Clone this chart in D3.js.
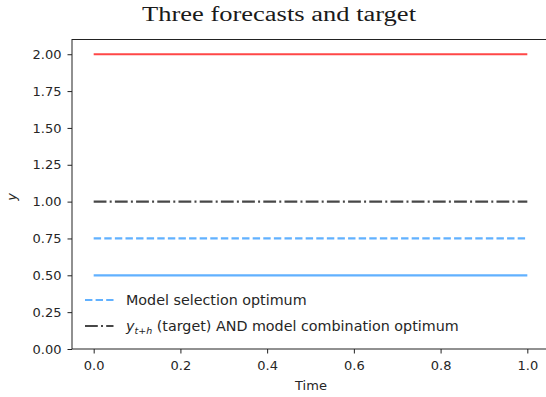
<!DOCTYPE html>
<html>
<head>
<meta charset="utf-8">
<script src="https://cdn.jsdelivr.net/npm/d3@7"></script>
<style>
  body { margin: 0; background: #fff; }
  svg { display: block; overflow: hidden; }
</style>
</head>
<body>
<svg id="chart"></svg>
<script>
const width = 546;
const height = 397;
const margin = {top: 39.5, right: -3, bottom: 48, left: 72};

// data
const times = [0, 1];
const highForecast = [2.0, 2.0];
const lowForecast = [0.5, 0.5];
const selectionOptimum = [0.75, 0.75];
const target = [1.0, 1.0];
const yTicks = [0, 0.25, 0.5, 0.75, 1.0, 1.25, 1.5, 1.75, 2.0];
const xTicks = [0, 0.2, 0.4, 0.6, 0.8, 1.0];

const series = [
  {values: highForecast, color: "rgba(255,0,0,0.72)", dash: null},
  {values: lowForecast, color: "rgba(30,144,255,0.7)", dash: null},
  {values: selectionOptimum, color: "rgba(30,144,255,0.7)", dash: "7.4,3.2", label: "Model selection optimum"},
  {values: target, color: "rgba(0,0,0,0.72)", dash: "12.8,3.2,2,3.2", label: "target"}
];

const svg = d3.select("#chart")
  .attr("width", width)
  .attr("height", height);

const x = d3.scaleLinear()
  .domain([-0.05, 1.05])
  .range([margin.left, width - margin.right]);

const y = d3.scaleLinear()
  .domain([0, 2.1])
  .range([height - margin.bottom, margin.top]);

const fontFamily = "'DejaVu Sans', sans-serif";
const textColor = "#262626";

// frame
svg.append("rect")
  .attr("x", x(-0.05))
  .attr("y", y(2.1))
  .attr("width", x(1.05) - x(-0.05))
  .attr("height", y(0) - y(2.1))
  .attr("fill", "none")
  .attr("stroke", "#222")
  .attr("stroke-width", 1);

// lines
const line = d3.line()
  .x((d, i) => x(times[i]))
  .y(d => y(d));

series.forEach(s => {
  svg.append("path")
    .datum(s.values)
    .attr("d", line)
    .attr("fill", "none")
    .attr("stroke", s.color)
    .attr("stroke-width", 2.2)
    .attr("stroke-dasharray", s.dash);
});

// axes
const yAxis = svg.append("g")
  .attr("transform", `translate(${x(-0.05)},0)`)
  .call(d3.axisLeft(y).tickValues(yTicks).tickFormat(d3.format(".2f")).tickSize(4.5).tickPadding(6));

const xAxis = svg.append("g")
  .attr("transform", `translate(0,${y(0)})`)
  .call(d3.axisBottom(x).tickValues(xTicks).tickFormat(d3.format(".1f")).tickSize(4.5).tickPadding(7.5));

[yAxis, xAxis].forEach(ax => {
  ax.select(".domain").remove();
  ax.selectAll(".tick line").attr("stroke", "#222").attr("stroke-width", 1);
  ax.selectAll(".tick text")
    .attr("fill", textColor)
    .style("font-family", fontFamily)
    .style("font-size", "13px");
});

// title
svg.append("text")
  .attr("x", 279)
  .attr("y", 21)
  .attr("text-anchor", "middle")
  .attr("textLength", 274)
  .attr("lengthAdjust", "spacingAndGlyphs")
  .style("font-family", "'Liberation Serif', serif")
  .style("font-size", "20px")
  .attr("fill", "#1a1a1a")
  .text("Three forecasts and target");

// axis labels
svg.append("text")
  .attr("x", 311)
  .attr("y", 390)
  .attr("text-anchor", "middle")
  .attr("fill", textColor)
  .style("font-family", fontFamily)
  .style("font-size", "13px")
  .text("Time");

svg.append("text")
  .attr("transform", "translate(16,197) rotate(-90)")
  .attr("text-anchor", "middle")
  .attr("fill", textColor)
  .style("font-family", fontFamily)
  .style("font-size", "13px")
  .style("font-style", "italic")
  .text("y");

// legend
const legendItems = series.filter(s => s.label);
const legendY = [300, 326];

legendItems.forEach((s, i) => {
  const g = svg.append("g").attr("transform", `translate(0,${legendY[i]})`);
  g.append("line")
    .attr("x1", 85).attr("x2", 113.5)
    .attr("y1", 0).attr("y2", 0)
    .attr("stroke", s.color)
    .attr("stroke-width", 2.2)
    .attr("stroke-dasharray", s.dash);

  const t = g.append("text")
    .attr("x", 126)
    .attr("y", 5)
    .attr("fill", textColor)
    .style("font-family", fontFamily)
    .style("font-size", "14.3px");

  if (i === 0) {
    t.text(s.label);
  } else {
    t.append("tspan").style("font-style", "italic").text("y");
    t.append("tspan")
      .style("font-style", "italic")
      .style("font-size", "9.5px")
      .attr("dy", 3)
      .text("t+h");
    t.append("tspan")
      .attr("dy", -3)
      .text(" (target) AND model combination optimum");
  }
});
</script>
</body>
</html>
